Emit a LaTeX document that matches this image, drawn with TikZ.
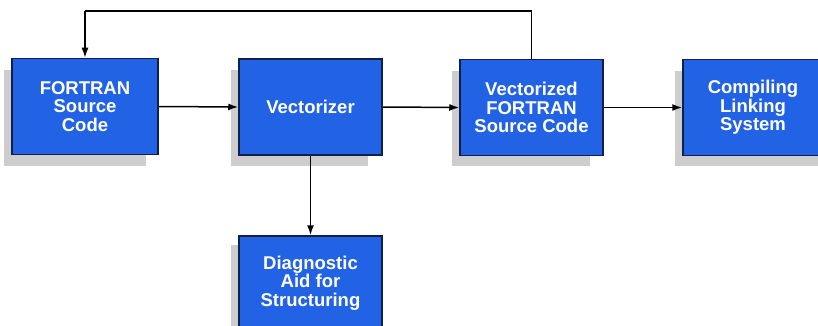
\documentclass[tikz,border=0pt]{standalone}
\usepackage{fontspec}
\setmainfont{Liberation Sans}
\usetikzlibrary{arrows.meta}
\definecolor{boxblue}{RGB}{34,98,228}
\definecolor{boxedge}{RGB}{20,30,70}
\definecolor{shade}{RGB}{205,205,205}
\tikzset{
  lbl/.style={text=white, font=\bfseries\fontsize{18.5}{18.5}\selectfont,
    align=center, inner sep=0pt},
  blk/.style={lbl, draw=boxedge, line width=1.5pt, fill=boxblue,
    minimum width=143pt, minimum height=96pt},
  shd/.style={fill=shade},
  conn/.style={line width=1.5pt, -{Latex[length=10pt,width=7pt]}},
  wire/.style={line width=1.5pt}
}
\begin{document}
\begin{tikzpicture}[x=1pt,y=-1pt]
\useasboundingbox (0,0) rectangle (818,326);
% drop shadows
\fill[shd] (4,70) rectangle (146,166);
\fill[shd] (231,70) rectangle (368,166);
\fill[shd] (452,71) rectangle (590,166);
\fill[shd] (675,71) rectangle (818,166);
\fill[shd] (231,245) rectangle (370,326);
% boxes
\node[blk, minimum width=146pt] (src) at (85,106.5) {FORTRAN\\Source\\Code};
\node[blk] (vec) at (310.5,107) {Vectorizer};
\node[blk] (vsrc) at (531.5,107.5) {Vectorized\\FORTRAN\\Source Code};
\node[blk, minimum width=140pt] (cls) at (753,107.5) {Compiling\\Linking\\System};
\node[blk, minimum height=100pt] (diag) at (310.5,286) {};
\node[lbl] (diagtxt) at (310.5,283) {Diagnostic\\Aid for\\Structuring};
% connectors
\coordinate (tr) at (vsrc.north |- 0,11);
\coordinate (tl) at (src.north |- 0,11);
\draw[wire] (vsrc.north) -- (tr) -- (tl);
\draw[conn] (tl) -- (src.north);
\draw[conn] (src.east) -- (vec.west);
\draw[conn] (vec.east) -- (vsrc.west);
\draw[conn] (vsrc.east) -- (cls.west);
\draw[conn] (vec.south) -- (diag.north);
\end{tikzpicture}
\end{document}
